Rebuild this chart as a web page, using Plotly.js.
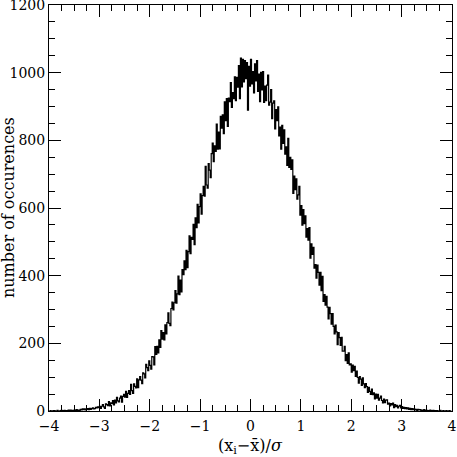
<!DOCTYPE html>
<html>
<head>
<meta charset="utf-8">
<script src="https://cdn.plot.ly/plotly-3.0.1.min.js"></script>
<style>
  html, body { margin: 0; padding: 0; background: #fff; }
  #chart { width: 457px; height: 457px; }
</style>
</head>
<body>
<div id="chart"></div>
<script>
// histogram of normalised deviations, bins of width 0.02 from -4 to 4
const binStart = -3.99;
const binWidth = 0.02;

// counts for bins left of zero (-4 .. 0)
const countsLeft = [
  0, 1, 0, 0, 1,   1, 0, 0, 2, 0,   0, 1, 2, 0, 1,   2, 0, 1, 1, 3,
  1, 3, 2, 0, 2,   3, 1, 4, 2, 3,   2, 5, 3, 6, 4,   6, 3, 5, 7, 4,
  8, 5, 7, 9, 6,   7, 11, 9, 12, 10,
  14, 8, 14, 19, 12,   8, 21, 19, 16, 28,   15, 24, 22, 31, 18,
  32, 24, 40, 30, 27,   38, 44, 26, 43, 49,   41, 58, 40, 52, 60,
  49, 79, 60, 52, 80,   73, 68, 95, 69, 92,   102, 91, 81, 113, 110,
  98, 138, 128, 119, 148,
  135, 124, 161, 160, 136,   190, 167, 191, 172, 210,
  188, 238, 212, 232, 210,   255, 228, 261, 290, 259,
  252, 303, 322, 299, 320,   356, 319, 346, 399, 344,
  387, 352, 418, 403, 444,   418, 475, 424, 471, 518,
  465, 513, 507, 552, 492,   571, 542, 611, 556, 604,
  642, 582, 637, 664, 635,   723, 668, 659, 731, 712,
  690, 761, 792, 737, 784,   767, 848, 774, 824, 775,
  871, 836, 875, 820, 914,   858, 923, 841, 925, 914,
  971, 897, 941, 923, 988,   917, 986, 957, 1021, 923,
  1043, 958, 1039, 973, 1036,   982, 1030, 889, 1019, 960
];

// counts for bins right of zero (0 .. 4)
const countsRight = [
  1039, 967, 1003, 940, 1026,   976, 1036, 945, 996, 914,
  1001, 949, 1003, 912, 960,   917, 963, 993, 904, 913,
  950, 864, 910, 917, 834,   891, 858, 899, 813, 839,
  774, 844, 791, 831, 759,   781, 726, 806, 720, 750,
  714, 742, 643, 694, 654,   686, 626, 639, 664, 579,
  607, 549, 595, 554, 577,   514, 539, 505, 542, 452,
  494, 463, 484, 422, 433,   393, 431, 410, 372, 410,
  356, 398, 324, 344, 313,   339, 307, 272, 306, 288,
  257, 288, 250, 228, 254,   234, 196, 232, 217, 194,
  218, 177, 177, 191, 149,   167, 141, 172, 136, 139,
  115, 136, 119, 132, 102,   118, 99, 82, 102, 94,
  76, 98, 80, 69, 81,   72, 55, 70, 58, 49,
  65, 48, 54, 36, 50,   38, 49, 32, 38, 44,
  31, 24, 35, 25, 32,   33, 20, 23, 15, 22,
  18, 23, 10, 19, 13,   17, 9, 14, 17, 9,
  13, 8, 11, 7, 10,   6, 9, 5, 8, 4,
  7, 4, 6, 3, 5,   2, 5, 3, 4, 2,
  3, 1, 4, 2, 1,   2, 0, 1, 3, 1,
  0, 2, 1, 0, 1,   1, 0, 0, 2, 0,
  0, 1, 0, 0, 1,   0, 0, 1, 0, 0
];

const counts = countsLeft.concat(countsRight);

const xTitle = "(x<sub>i</sub>\u2212x\u0304)/<i>\u03c3</i>";
const yTitle = "number of occurences";

const tickFont = { family: "DejaVu Serif, serif", size: 14, color: "#000" };
const titleFont = { family: "DejaVu Serif, serif", size: 16, color: "#000" };

const axisCommon = {
  showline: true,
  linecolor: "#000",
  linewidth: 1,
  mirror: "allticks",
  ticks: "inside",
  ticklen: 12,
  tickwidth: 1,
  tickcolor: "#000",
  showgrid: false,
  zeroline: false,
  tickfont: tickFont,
  ticklabeloverflow: "allow",
};

const trace = {
  type: "scatter",
  mode: "lines",
  x0: binStart,
  dx: binWidth,
  y: counts,
  line: { shape: "hvh", color: "#000", width: 1.2 },
  hoverinfo: "skip",
};

// axis titles drawn as annotations so they can sit where the original has them
const titleNote = {
  font: titleFont,
  xref: "paper",
  yref: "paper",
  xanchor: "center",
  yanchor: "middle",
  showarrow: false,
};

const layout = {
  width: 457,
  height: 457,
  margin: { l: 49, r: 5, t: 5, b: 46 },
  paper_bgcolor: "#fff",
  plot_bgcolor: "#fff",
  showlegend: false,
  xaxis: Object.assign({}, axisCommon, {
    range: [-4, 4],
    tick0: 0,
    dtick: 1,
    ticklabelstandoff: 2,
    minor: { dtick: 0.25, ticks: "inside", ticklen: 6, tickcolor: "#000", showgrid: false },
  }),
  yaxis: Object.assign({}, axisCommon, {
    range: [0, 1200],
    tick0: 0,
    dtick: 200,
    minor: { dtick: 50, ticks: "inside", ticklen: 6, tickcolor: "#000", showgrid: false },
  }),
  annotations: [
    Object.assign({}, titleNote, { text: xTitle, x: 0.5, y: 0, yshift: -35 }),
    Object.assign({}, titleNote, { text: yTitle, x: 0, y: 0.5, xshift: -41, textangle: -90 }),
  ],
};

Plotly.newPlot("chart", [trace], layout, { staticPlot: true, displayModeBar: false });
</script>
</body>
</html>
